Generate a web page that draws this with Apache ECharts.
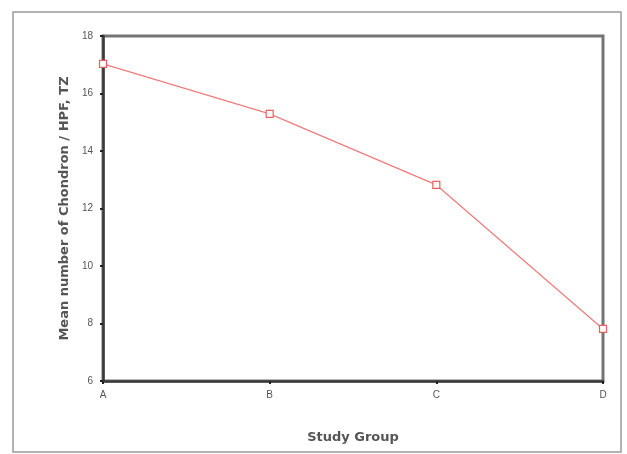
<!DOCTYPE html>
<html>
<head>
<meta charset="utf-8">
<script src="https://cdn.jsdelivr.net/npm/echarts@6/dist/echarts.min.js"></script>
<style>
  html, body { margin: 0; padding: 0; background: #fff; }
  #chart { width: 627px; height: 454px; }
</style>
</head>
<body>
<div id="chart"></div>
<script>
// Study groups along the x axis
const groups = ['A', 'B', 'C', 'D'];
// Mean number of chondrons per high-power field (transitional zone)
const meanChondron = [17.03, 15.29, 12.82, 7.81];
// Value axis range and step
const yMin = 6;
const yMax = 18;
const yStep = 2;

const chart = echarts.init(document.getElementById('chart'), null, { renderer: 'canvas' });

const titleFont = { fontFamily: 'DejaVu Sans', fontSize: 13, fontWeight: 'bold', color: '#555' };
const tickFont = { fontFamily: 'Liberation Sans', fontSize: 10, color: '#555' };

chart.setOption({
  backgroundColor: '#ffffff',
  animation: false,
  graphic: [{
    type: 'rect',
    shape: { x: 13, y: 12, width: 608, height: 440 },
    style: { fill: 'none', stroke: '#9a9a9a', lineWidth: 1.5 },
    z: -1
  }],
  grid: {
    left: 103, right: 24, top: 36, bottom: 73,
    show: true,
    borderColor: '#747474',
    borderWidth: 3,
    backgroundColor: '#ffffff'
  },
  xAxis: {
    type: 'category',
    data: groups,
    boundaryGap: false,
    name: 'Study Group',
    nameLocation: 'middle',
    nameGap: 50,
    nameTextStyle: titleFont,
    axisLine: { lineStyle: { color: '#3a3a3a', width: 2.5 } },
    axisTick: { show: true, length: 3, alignWithLabel: true, lineStyle: { color: '#222', width: 2 } },
    axisLabel: Object.assign({ margin: 9 }, tickFont),
    splitLine: { show: false }
  },
  yAxis: {
    type: 'value',
    min: yMin, max: yMax, interval: yStep,
    name: 'Mean number of Chondron / HPF, TZ',
    nameLocation: 'middle',
    nameGap: 32,
    nameTextStyle: titleFont,
    axisLine: { show: true, lineStyle: { color: '#3a3a3a', width: 2.5 } },
    axisTick: { show: true, length: 3, lineStyle: { color: '#222', width: 2 } },
    axisLabel: Object.assign({ margin: 10 }, tickFont),
    splitLine: { show: false }
  },
  series: [{
    type: 'line',
    data: meanChondron,
    symbol: 'rect',
    symbolSize: 7,
    showAllSymbol: true,
    lineStyle: { color: '#ef7b7b', width: 1.2 },
    itemStyle: { color: '#ffffff', borderColor: '#e86060', borderWidth: 1.2 },
    z: 5
  }]
});
</script>
</body>
</html>
